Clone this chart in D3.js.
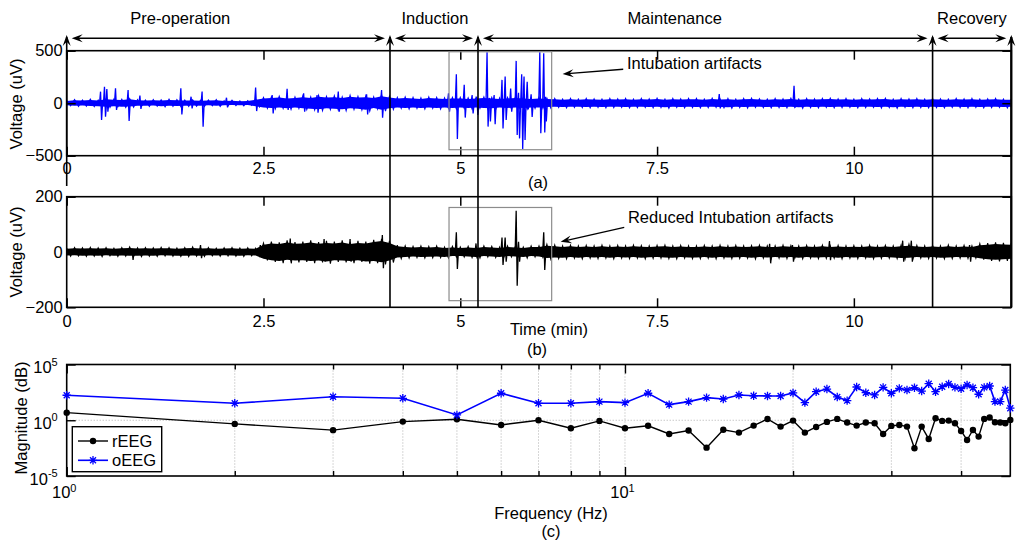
<!DOCTYPE html>
<html><head><meta charset="utf-8">
<script src="https://cdn.jsdelivr.net/npm/d3@7"></script>
<style>
body{margin:0;background:#fff}
svg{display:block}
text{font-family:"Liberation Sans",Arial,Helvetica,sans-serif;fill:#000}
</style>
</head><body>
<svg id="chart" width="1024" height="550"></svg>
<script>
// ---------------- DATA ----------------
const phaseNames = ["Pre-operation","Induction","Maintenance","Recovery"];
const phaseBounds = [0, 4.107, 5.225, 11.0, 12.0];
const phaseLabelT = [1.443, 4.678, 7.723, 11.5];

const timeTicks = [0, 2.5, 5, 7.5, 10];
const voltTicksA = [-500, 0, 500];
const voltTicksB = [-200, 0, 200];

// (a) oEEG envelope, upper/lower (uV) every 0.1 min from 0 to 12
const aHi = [25,35,30,38,30,45,40,38,45,35,
 30,35,32,38,35,30,32,28,30,35,
 25,28,22,25,40,55,60,65,55,60,
 70,60,75,65,70,60,75,65,70,60,
 80,65,55,60,55,50,60,55,50,55,
 55,50,55,60,55,50,55,60,55,50,
 55,50,45,40,45,40,45,42,40,45,
 42,45,40,45,42,48,40,45,42,45,
 45,40,48,42,45,40,45,48,42,40,
 45,42,48,40,45,42,45,48,42,45,
 40,45,42,45,48,40,45,42,45,40,
 45,42,40,45,42,45,40,42,45,40,
 40];
const aLo = [-25,-30,-28,-32,-35,-40,-35,-40,-38,-30,
 -30,-28,-35,-30,-32,-30,-28,-30,-25,-30,
 -25,-22,-25,-20,-35,-50,-55,-50,-60,-50,
 -60,-65,-70,-60,-65,-70,-60,-65,-75,-55,
 -75,-60,-50,-55,-50,-55,-50,-55,-50,-55,
 -50,-55,-50,-55,-60,-50,-55,-50,-55,-50,
 -50,-45,-40,-45,-40,-42,-45,-40,-45,-42,
 -40,-45,-42,-40,-45,-42,-48,-40,-45,-42,
 -45,-42,-40,-45,-48,-42,-45,-40,-42,-45,
 -42,-45,-40,-48,-42,-45,-40,-45,-42,-40,
 -45,-42,-40,-45,-42,-48,-40,-45,-42,-45,
 -42,-45,-40,-42,-45,-40,-45,-42,-40,-45,
 -40];
// (a) spikes: [time (min), peak up (uV), peak down (uV)]
const aSpikes = [[0.43,110,-160],[0.48,157,-128],[0.51,135,-80],[0.62,143,-65],[0.78,126,-170],
 [0.93,72,-55],[1.45,143,-107],[1.58,62,-50],[1.72,111,-223],[2.03,52,-40],[2.40,150,-75],
 [2.61,78,-97],[2.80,137,-65],[3.01,94,-81],[3.18,78,-90],[3.45,111,-81],[3.81,85,-107],
 [4.00,126,-138],[4.85,94,-81],[4.95,276,-340],[5.05,175,-137],[5.15,78,-97],[5.21,60,-112],
 [5.34,485,-223],[5.37,50,-175],[5.43,78,-200],[5.53,222,-240],[5.57,254,-160],[5.64,140,-80],
 [5.71,403,-302],[5.74,100,-335],[5.78,276,-436],[5.81,254,-350],[5.85,205,-60],[5.90,85,-130],
 [6.01,485,-286],[6.06,476,-278],[6.08,60,-175],[8.29,86,-50],[9.24,166,-40]];

// (b) rEEG envelope, upper/lower (uV) every 0.1 min
const bHi = [14,16,15,17,15,16,14,16,18,15,
 16,15,17,16,14,16,18,15,16,14,
 15,16,14,15,14,32,38,35,42,36,
 38,42,36,40,38,42,35,40,38,44,
 48,40,25,22,20,22,20,22,18,20,
 18,20,18,22,20,18,22,20,18,22,
 22,28,25,22,25,22,24,22,25,22,
 24,22,25,23,22,24,25,22,24,22,
 22,24,22,25,22,24,22,23,25,22,
 22,25,23,22,24,22,25,22,24,22,
 23,22,25,22,24,22,25,28,24,22,
 24,22,25,22,24,22,30,32,35,33,
 32];
const bLo = [-15,-14,-16,-15,-17,-14,-16,-15,-16,-17,
 -15,-16,-14,-15,-16,-17,-15,-16,-14,-15,
 -14,-15,-16,-14,-15,-30,-36,-40,-34,-38,
 -36,-40,-38,-42,-36,-38,-40,-36,-42,-40,
 -45,-38,-24,-22,-20,-22,-21,-20,-22,-18,
 -18,-20,-22,-18,-20,-22,-18,-20,-22,-18,
 -20,-26,-24,-25,-22,-25,-22,-24,-22,-25,
 -22,-24,-22,-25,-23,-22,-24,-25,-22,-24,
 -24,-22,-25,-22,-24,-23,-22,-25,-22,-24,
 -22,-24,-22,-25,-22,-24,-23,-22,-25,-22,
 -24,-22,-25,-23,-22,-24,-26,-25,-22,-24,
 -22,-25,-24,-22,-23,-22,-28,-32,-34,-32,
 -30];
const bSpikes = [[0.83,10,-29],[1.70,25,-22],[2.46,25,-20],[2.84,49,-41],[3.27,47,-35],
 [3.60,47,-35],[4.01,61,-59],[4.95,71,-61],[5.20,31,-23],[5.53,52,-47],[5.57,52,-35],
 [5.71,149,-122],[5.74,37,-35],[6.06,71,-65],[8.93,30,-41],[9.22,25,-35],[9.69,40,-30],
 [10.62,41,-35],[10.73,41,-35],[11.47,25,-35]];

// Intubation boxes [t0, t1, vLow, vHigh]
const boxA = [4.857, 6.161, -443, 490];
const boxB = [4.857, 6.161, -176, 161];

// (c) spectrum
const freqs = [1,2,3,4,5,6,7,8,9,10,11,12,13,14,15,16,17,18,19,20,21,22,23,24,25,
 26,27,28,29,30,31,32,33,34,35,36,37,38,39,40,41,42,43,44,45,46,47,48,49];
const rEEG = [4.8,0.47,0.13,0.76,1.23,0.38,1.0,0.19,0.87,0.19,
 0.32,0.059,0.12,0.0035,0.14,0.078,0.33,1.3,0.27,0.93,
 0.078,0.25,0.71,1.32,0.62,0.33,0.62,0.54,0.059,0.31,
 0.38,0.27,0.0031,0.27,0.021,1.51,0.87,0.93,0.54,0.11,
 0.017,0.135,0.034,1.32,1.74,0.66,0.62,0.54,1.07];
const oEEG = [174,33,129,93,3.0,263,33,33,47,38,
 263,25,47,107,80,186,158,151,151,282,
 38,363,631,123,58,955,295,186,891,263,
 724,513,832,417,1905,363,1023,1778,891,676,
 1445,832,214,891,1175,47,47,513,12];
const freqMinorTicks = [2,3,4,5,6,7,8,9,20,30,40];
const freqMajorTicks = [1,10];
const magTicks = [1e-5,1,1e5];

// ---------------- DRAW ----------------
const svg = d3.select("#chart");
const FS = 16.5;
const xT = d3.scaleLinear().domain([0,12]).range([66.7,1011.3]);
const yA = d3.scaleLinear().domain([-500,500]).range([155.7,50.7]);
const yB = d3.scaleLinear().domain([-200,200]).range([307.3,196.7]);
const xF = d3.scaleLog().domain([1,49]).range([66.7,1010.3]);
const yM = d3.scaleLog().domain([1e-5,1e5]).range([476,364.5]);

const defs = svg.append("defs");
function clip(id, x0,x1,y0,y1){
  defs.append("clipPath").attr("id",id).append("rect")
    .attr("x",x0).attr("y",y0).attr("width",x1-x0).attr("height",y1-y0);
}
clip("clipA", xT(0), xT(12), yA(500), yA(-500));
clip("clipB", xT(0), xT(12), yB(200), yB(-200));
clip("clipC", xF(1)-6, xF(49)+6, yM(1e5), yM(1e-5));

function drawEEG(y, hi, lo, spikes, color, clipId){
  const g = svg.append("g").attr("clip-path", `url(#${clipId})`);
  const idx = d3.range(hi.length);
  const area = d3.area().x(i=>xT(i/10)).y0(i=>y(lo[i]*0.82)).y1(i=>y(hi[i]*0.82));
  g.append("path").attr("d", area(idx)).attr("fill", color);
  const pts = [];
  idx.forEach(i=>{
    pts.push([i/10, hi[i]]);
    pts.push([Math.min(i/10+0.05, 12), lo[i]]);
  });
  const line = d3.line().x(d=>xT(d[0])).y(d=>y(d[1]));
  g.append("path").attr("d", line(pts)).attr("fill","none")
    .attr("stroke", color).attr("stroke-width", 1.1).attr("stroke-linejoin","miter");
  spikes.forEach(s=>{
    const sp = [[s[0]-0.013,0],[s[0],s[1]],[s[0]+0.013,s[2]],[s[0]+0.026,0]];
    g.append("path").attr("d", line(sp)).attr("fill","none")
      .attr("stroke", color).attr("stroke-width", 1.3);
  });
}

function timePanel(y, vTicks, padLbl){
  const g = svg.append("g");
  const x0 = xT(0), x1 = xT(12), yt = y.range()[1], yb = y.range()[0];
  const gb = g.append("g").attr("transform",`translate(0,${yb})`)
    .call(d3.axisBottom(xT).tickValues(timeTicks).tickSize(-9).tickPadding(padLbl).tickFormat(d3.format("")));
  const gt = g.append("g").attr("transform",`translate(0,${yt})`)
    .call(d3.axisTop(xT).tickValues(timeTicks).tickSize(-9).tickFormat(""));
  const gl = g.append("g").attr("transform",`translate(${x0},0)`)
    .call(d3.axisLeft(y).tickValues(vTicks).tickSize(-9).tickPadding(4).tickFormat(d3.format("")));
  const gr = g.append("g").attr("transform",`translate(${x1},0)`)
    .call(d3.axisRight(y).tickValues(vTicks).tickSize(-9).tickFormat(""));
  [gb,gt,gl,gr].forEach(a=>{
    a.select(".domain").remove();
    a.selectAll("line").attr("stroke","#000").attr("stroke-width",1.5);
    a.selectAll("text").attr("font-size",FS).attr("font-family",'"Liberation Sans",Arial,sans-serif').attr("fill","#000");
  });
  g.append("rect").attr("x",x0).attr("y",yt).attr("width",x1-x0).attr("height",yb-yt)
    .attr("fill","none").attr("stroke","#000").attr("stroke-width",1.6);
  return g;
}

drawEEG(yA, aHi, aLo, aSpikes, "#0000ff", "clipA");
drawEEG(yB, bHi, bLo, bSpikes, "#000000", "clipB");
timePanel(yA, voltTicksA, 7);
timePanel(yB, voltTicksB, 8);

[[boxA,yA],[boxB,yB]].forEach(([b,y])=>{
  svg.append("rect").attr("x",xT(b[0])).attr("y",y(b[3]))
    .attr("width",xT(b[1])-xT(b[0])).attr("height",y(b[2])-y(b[3]))
    .attr("fill","none").attr("stroke","#8c8c8c").attr("stroke-width",1.2);
});

function ylabel(txt, x, y){
  svg.append("text").attr("transform",`translate(${x},${y}) rotate(-90)`)
    .attr("text-anchor","middle").attr("font-size",FS).text(txt);
}
ylabel("Voltage (uV)", 22, 104);
ylabel("Voltage (uV)", 22, 252);
ylabel("Magnitude (dB)", 27, 418);

function head(x, y, ang, L=11, Wd=8){
  svg.append("path").attr("d",`M0,0L${-L},${-Wd/2}L${-L*0.62},0L${-L},${Wd/2}Z`)
    .attr("transform",`translate(${x},${y}) rotate(${ang})`).attr("fill","#000");
}
const tipY = 35, arrY = 38.3;
phaseBounds.forEach((t,i)=>{
  const x = xT(t);
  const yEnd = i===0 ? 186 : yB(-200);
  svg.append("line").attr("x1",x).attr("x2",x).attr("y1",tipY+2).attr("y2",yEnd)
    .attr("stroke","#000").attr("stroke-width", i===phaseBounds.length-1 ? 2.2 : 1.6);
  head(x, tipY, -90);
});
phaseNames.forEach((n,i)=>{
  const xa = xT(phaseBounds[i])+5, xb = xT(phaseBounds[i+1])-5;
  svg.append("line").attr("x1",xa+4).attr("x2",xb-4).attr("y1",arrY).attr("y2",arrY)
    .attr("stroke","#000").attr("stroke-width",1.4);
  head(xa, arrY, 180);
  head(xb, arrY, 0);
  svg.append("text").attr("x", xT(phaseLabelT[i])).attr("y",24)
    .attr("text-anchor","middle").attr("font-size",FS).text(n);
});

function annot(txt, tx, ty, x1, y1, x2, y2){
  svg.append("text").attr("x",tx).attr("y",ty).attr("font-size",FS).text(txt);
  const ang = Math.atan2(y2-y1, x2-x1)*180/Math.PI;
  svg.append("line").attr("x1",x1).attr("y1",y1).attr("x2",x2+ (x1-x2)*0.08).attr("y2",y2+(y1-y2)*0.08)
    .attr("stroke","#000").attr("stroke-width",1.4);
  head(x2, y2, ang, 11, 8);
}
annot("Intubation artifacts", xT(7.118), yA(326), xT(7.07), yA(323), xT(6.30), yA(278));
annot("Reduced Intubation artifacts", xT(7.13), yB(105), xT(7.083), yB(89), xT(6.275), yB(37));

function cap(txt, x, y){
  svg.append("text").attr("x",x).attr("y",y).attr("text-anchor","middle").attr("font-size",FS).text(txt);
}
cap("(a)", 538, 188);
cap("Time (min)", 549, 335);
cap("(b)", 537, 355);
cap("Frequency (Hz)", 551, 519);
cap("(c)", 551, 537);

// ---------------- PANEL C ----------------
const gc = svg.append("g");
const cx0 = xF(1), cx1 = xF(49), cyT = yM(1e5), cyB = yM(1e-5);
freqMinorTicks.concat([10]).forEach(f=>{
  gc.append("line").attr("x1",xF(f)).attr("x2",xF(f)).attr("y1",cyT).attr("y2",cyB)
    .attr("stroke","#9a9a9a").attr("stroke-width",0.8).attr("stroke-dasharray","1,2");
});
gc.append("line").attr("x1",cx0).attr("x2",cx1).attr("y1",yM(1)).attr("y2",yM(1))
  .attr("stroke","#9a9a9a").attr("stroke-width",0.8).attr("stroke-dasharray","1,2");
const axB = gc.append("g").attr("transform",`translate(0,${cyB})`)
  .call(d3.axisBottom(xF).tickValues(freqMajorTicks).tickSize(-9).tickPadding(10).tickFormat(()=>"10"));
const axBm = gc.append("g").attr("transform",`translate(0,${cyB})`)
  .call(d3.axisBottom(xF).tickValues(freqMinorTicks).tickSize(-5).tickFormat(""));
const axT = gc.append("g").attr("transform",`translate(0,${cyT})`)
  .call(d3.axisTop(xF).tickValues(freqMajorTicks).tickSize(-9).tickFormat(""));
const axTm = gc.append("g").attr("transform",`translate(0,${cyT})`)
  .call(d3.axisTop(xF).tickValues(freqMinorTicks).tickSize(-5).tickFormat(""));
const axL = gc.append("g").attr("transform",`translate(${cx0},0)`)
  .call(d3.axisLeft(yM).tickValues(magTicks).tickSize(-9).tickPadding(9).tickFormat(()=>"10"));
const axR = gc.append("g").attr("transform",`translate(${cx1},0)`)
  .call(d3.axisRight(yM).tickValues(magTicks).tickSize(-9).tickFormat(""));
[axB,axBm,axT,axTm,axL,axR].forEach(a=>{
  a.select(".domain").remove();
  a.selectAll("line").attr("stroke","#000").attr("stroke-width",1.4);
  a.selectAll("text").attr("font-size",FS).attr("font-family",'"Liberation Sans",Arial,sans-serif').attr("fill","#000");
});
axB.selectAll(".tick text").each(function(d){
  const t = d3.select(this);
  t.attr("dx","-3");
  t.append("tspan").attr("font-size",11).attr("dy","-0.55em").text(Math.round(Math.log10(d)));
});
axL.selectAll(".tick text").each(function(d){
  const t = d3.select(this);
  const e = Math.round(Math.log10(d));
  t.attr("dy","0.5em");
  t.append("tspan").attr("font-size",11).attr("dy","-0.7em").text(e);
});
gc.append("rect").attr("x",cx0).attr("y",cyT).attr("width",cx1-cx0).attr("height",cyB-cyT)
  .attr("fill","none").attr("stroke","#000").attr("stroke-width",1.6);

const lineF = d3.line().x((d,i)=>xF(freqs[i])).y(d=>yM(d));
const gs = gc.append("g").attr("clip-path","url(#clipC)");
gs.append("path").attr("d",lineF(rEEG)).attr("fill","none").attr("stroke","#000").attr("stroke-width",1.4);
gs.selectAll("circle.r").data(rEEG).join("circle").attr("class","r")
  .attr("cx",(d,i)=>xF(freqs[i])).attr("cy",d=>yM(d)).attr("r",3.2).attr("fill","#000");
gs.append("path").attr("d",lineF(oEEG)).attr("fill","none").attr("stroke","#0000ff").attr("stroke-width",1.6);
const star = "M-4.2,0H4.2M0,-4.2V4.2M-3,-3L3,3M-3,3L3,-3";
gs.selectAll("path.o").data(oEEG).join("path").attr("class","o")
  .attr("transform",(d,i)=>`translate(${xF(freqs[i])},${yM(d)})`)
  .attr("d",star).attr("stroke","#0000ff").attr("stroke-width",1.3).attr("fill","none");

const lg = gc.append("g");
lg.append("rect").attr("x",72.3).attr("y",426.7).attr("width",89.4).attr("height",45)
  .attr("fill","#fff").attr("stroke","#000").attr("stroke-width",1.4);
lg.append("line").attr("x1",78).attr("x2",108).attr("y1",441).attr("y2",441).attr("stroke","#000").attr("stroke-width",1.4);
lg.append("circle").attr("cx",93).attr("cy",441).attr("r",3.2).attr("fill","#000");
lg.append("text").attr("x",112).attr("y",447).attr("font-size",FS).text("rEEG");
lg.append("line").attr("x1",78).attr("x2",108).attr("y1",460.3).attr("y2",460.3).attr("stroke","#0000ff").attr("stroke-width",1.6);
lg.append("path").attr("transform","translate(93,460.3)").attr("d",star).attr("stroke","#0000ff").attr("stroke-width",1.3);
lg.append("text").attr("x",112).attr("y",466.3).attr("font-size",FS).text("oEEG");
</script>
</body></html>
